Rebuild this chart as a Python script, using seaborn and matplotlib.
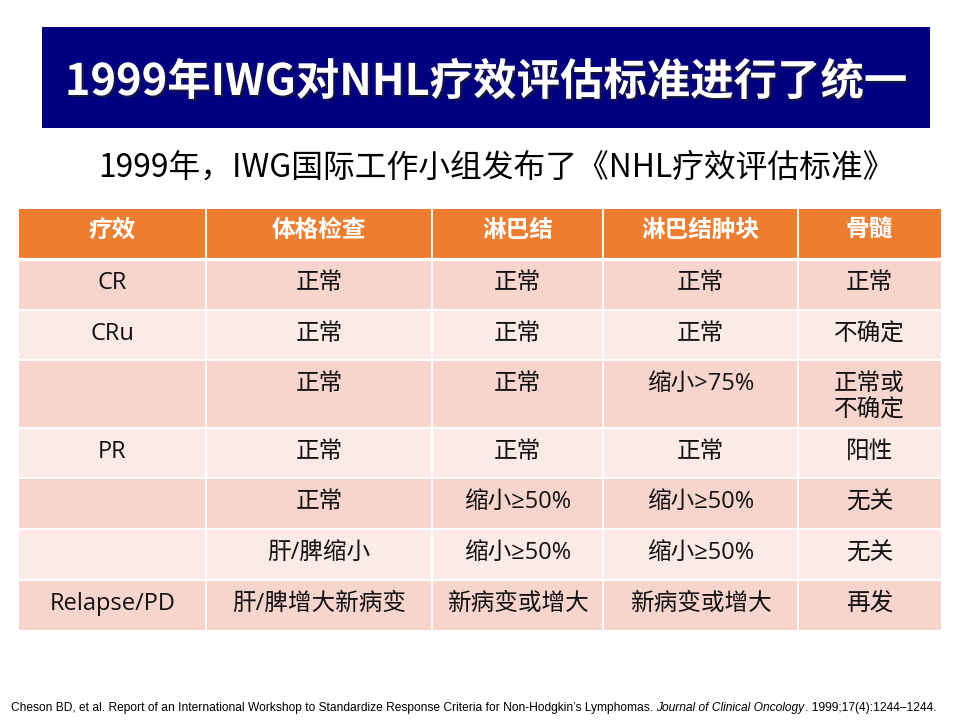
import numpy as np
import pandas as pd
import matplotlib
matplotlib.use('Agg')
import matplotlib.pyplot as plt
import matplotlib.patheffects as pe
from matplotlib.colors import ListedColormap
from matplotlib.patches import Rectangle
import seaborn as sns

# Texts and table content.
title = '1999年IWG对NHL疗效评估标准进行了统一'
subtitle = '1999年，IWG国际工作小组发布了《NHL疗效评估标准》'
footnote_parts = ['Cheson BD, et al. Report of an International Workshop to Standardize '
                  'Response Criteria for Non-Hodgkin\u2019s Lymphomas.',
                  'Journal of Clinical Oncology',
                  '. 1999;17(4):1244\u20131244.']

columns = ['疗效', '体格检查', '淋巴结', '淋巴结肿块', '骨髓']
response = ['CR', 'CRu', '', 'PR', '', '', 'Relapse/PD']
physical_exam = ['正常', '正常', '正常', '正常', '正常', '肝/脾缩小', '肝/脾增大新病变']
lymph_nodes = ['正常', '正常', '正常', '正常', '缩小≥50%', '缩小≥50%', '新病变或增大']
node_masses = ['正常', '正常', '缩小>75%', '正常', '缩小≥50%', '缩小≥50%', '新病变或增大']
bone_marrow = ['正常', '不确定', '正常或\n不确定', '阳性', '无关', '无关', '再发']

# Layout (pixels on the 960x720 slide).
W, H = 960, 720
col_edges = [19, 206, 432, 603, 798, 941]
row_edges = [209, 259, 310, 360, 428, 478, 529, 580, 630]

header_color = '#ED7D31'
band_colors = ['#F7D5CC', '#FBEAE6']
cell_font = ['Open Sans', 'Noto Sans CJK SC', 'DejaVu Sans']

sns.set_theme(style='white')
plt.rcParams['font.family'] = ['Noto Sans CJK SC', 'DejaVu Sans']

fig = plt.figure(figsize=(9.6, 7.2), dpi=100)


def fx(x):
    return x / W


def fy(y):
    return 1 - y / H


# Title banner.
fig.add_artist(Rectangle((fx(42), fy(128)), fx(930) - fx(42), fy(27) - fy(128),
                         transform=fig.transFigure, facecolor='#000080', edgecolor='none'))
t_title = fig.text(fx(486), fy(82), title, ha='center', va='center', color='white',
                   fontsize=33, fontweight='bold',
                   path_effects=[pe.SimplePatchShadow(offset=(1.5, -1.5), shadow_rgbFace='#222222', alpha=0.7),
                                 pe.Normal()])
t_sub = fig.text(fx(98), fy(168), subtitle, ha='left', va='center', color='black', fontsize=23)

# Table: cell colours through a heatmap, one heatmap row per pixel row.
table = pd.DataFrame(dict(zip(columns, [response, physical_exam, lymph_nodes, node_masses, bone_marrow])))
top, bottom = row_edges[0], row_edges[-1]
left, right = col_edges[0], col_edges[-1]
ax = fig.add_axes([fx(left), fy(bottom), fx(right) - fx(left), fy(top) - fy(bottom)])

row_idx = [0] + [1 + i % 2 for i in range(len(table))]
grid = np.repeat(row_idx, np.diff(row_edges))[:, None]
sns.heatmap(grid, ax=ax, cmap=ListedColormap([header_color] + band_colors), vmin=-0.5, vmax=2.5,
            cbar=False, xticklabels=False, yticklabels=False)

for x in col_edges[1:-1]:
    ax.axvline((x - left) / (right - left), color='white', lw=1.3)
for k, y in enumerate(row_edges[1:-1]):
    ax.axhline(y - top, color='white', lw=2.4 if k == 0 else 1.4)

for j, col in enumerate(columns):
    xc = ((col_edges[j] + col_edges[j + 1]) / 2 - left) / (right - left)
    ax.text(xc, row_edges[0] + 22 - top, col, ha='center', va='center', color='white',
            fontsize=17, fontweight='bold', family=cell_font)
    for i, val in enumerate(table[col]):
        n = val.count('\n')
        yc = row_edges[i + 1] + 24 + n * 13 - top
        ax.text(xc, yc, val, ha='center', va='center', color='#111111', fontsize=17,
                linespacing=1.1, family=cell_font)

# Fit the headline widths to the slide.
fig.canvas.draw()
renderer = fig.canvas.get_renderer()
for t, target in [(t_title, 843), (t_sub, 798)]:
    w = t.get_window_extent(renderer).width
    t.set_fontsize(t.get_fontsize() * target / w)

# Footnote with italic journal name.
styles = ['normal', 'italic', 'normal']
foot = [fig.text(0, fy(708), s, fontsize=9, style=st, family='Liberation Sans', va='center', color='black')
        for s, st in zip(footnote_parts, styles)]
gap = 0.278 * 9 * 100 / 72
total = sum(t.get_window_extent(renderer).width for t in foot) + gap
scale = 925 / total
x = 11
for k, t in enumerate(foot):
    t.set_fontsize(9 * scale)
    t.set_x(fx(x))
    x += t.get_window_extent(renderer).width
    if k == 0:
        x += gap * scale

fig.savefig('out.png', dpi=100)
